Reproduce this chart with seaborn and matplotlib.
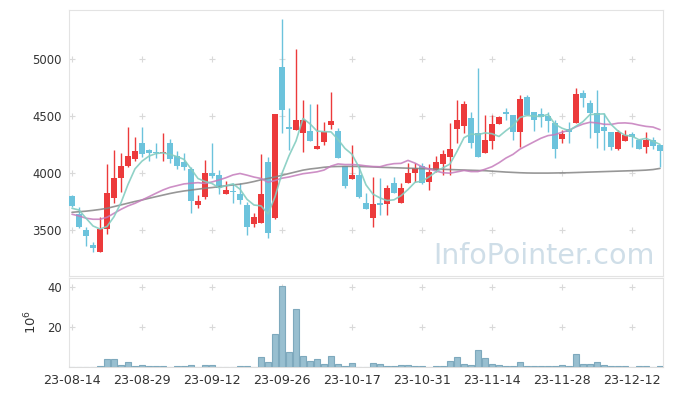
import numpy as np
import pandas as pd
import matplotlib
matplotlib.use("Agg")
import matplotlib.pyplot as plt
import seaborn as sns

# ---------------- data ----------------
opens = [3801, 3640, 3500, 3368, 3310, 3506, 3778, 3953, 4061, 4123,
         4263, 4202, 4187, 4173, 4260, 4152, 4099, 4035, 3722, 3792,
         4000, 3980, 3816, 3838, 3816, 3719, 3553, 3559, 4096, 3608,
         4933, 4401, 4377, 4348, 4368, 4213, 4275, 4421, 4368, 4061,
         3950, 3982, 3734, 3608, 3727, 3725, 3910, 3739, 3910, 3997,
         4060, 3918, 4026, 4079, 4143, 4386, 4415, 4480, 4348, 4173,
         4281, 4427, 4532, 4509, 4362, 4670, 4532, 4515, 4503, 4436,
         4295, 4383, 4436, 4705, 4617, 4523, 4406, 4362, 4208, 4283,
         4342, 4290, 4231, 4290, 4246]
closes = [3713, 3524, 3450, 3345, 3509, 3825, 3953, 4061, 4149, 4193,
          4164, 4173, 4173, 4181, 4125, 4064, 4055, 3757, 3755, 3997,
          3974, 3866, 3851, 3834, 3763, 3529, 3617, 3816, 3476, 4518,
          4555, 4389, 4465, 4465, 4283, 4237, 4362, 4456, 4134, 3886,
          3982, 3789, 3687, 3725, 3723, 3866, 3822, 3866, 3997, 4041,
          3915, 4006, 4096, 4167, 4211, 4465, 4608, 4260, 4137, 4290,
          4427, 4488, 4515, 4362, 4646, 4509, 4465, 4494, 4456, 4211,
          4339, 4357, 4690, 4655, 4523, 4354, 4371, 4231, 4362, 4333,
          4319, 4211, 4290, 4240, 4193]
highs = [3805, 3699, 3529, 3397, 3611, 4079, 4202, 4173, 4401, 4313,
         4401, 4210, 4260, 4354, 4295, 4190, 4173, 4050, 3807, 4111,
         4260, 4023, 3933, 3910, 3910, 3743, 3646, 4164, 4143, 4518,
         5351, 4567, 5088, 4640, 4605, 4605, 4450, 4713, 4392, 4065,
         4246, 4070, 3827, 3968, 3953, 3895, 3968, 3910, 4085, 4085,
         4085, 4076, 4149, 4202, 4436, 4640, 4634, 4538, 4918, 4509,
         4509, 4500, 4567, 4509, 4684, 4684, 4538, 4567, 4532, 4465,
         4377, 4450, 4748, 4728, 4640, 4728, 4523, 4362, 4377, 4377,
         4357, 4302, 4362, 4319, 4246]
lows = [3700, 3520, 3360, 3310, 3305, 3465, 3734, 3836, 4050, 4108,
        4143, 4105, 4134, 4108, 4085, 4035, 4030, 3646, 3690, 3769,
        3953, 3816, 3816, 3734, 3725, 3456, 3524, 3559, 3433, 3600,
        4348, 4202, 4377, 4187, 4280, 4213, 4246, 4383, 4134, 3866,
        3950, 3778, 3687, 3524, 3632, 3632, 3822, 3739, 3910, 3924,
        3903, 3851, 4006, 3982, 3982, 4260, 4354, 4216, 4137, 4173,
        4208, 4427, 4465, 4290, 4225, 4509, 4371, 4406, 4362, 4129,
        4260, 4260, 4436, 4576, 4304, 4216, 4202, 4202, 4202, 4283,
        4231, 4211, 4173, 4210, 4055]
volume_m = [0, 0, 0, 0, 0.5, 3.8, 3.8, 0.8, 2.3, 0.3,
            0.8, 0.4, 0.4, 0.4, 0, 0.4, 0.4, 0.9, 0, 0.9,
            0.9, 0, 0, 0, 0.4, 0.4, 0, 4.8, 2.3, 16.3,
            40.5, 7.3, 28.8, 5.3, 2.8, 3.8, 1.3, 5.3, 1.3, 0.7,
            1.8, 0.2, 0.2, 1.8, 1.3, 0.3, 0.3, 0.8, 0.8, 0.3,
            0.3, 0, 0.3, 0.3, 3.0, 4.8, 1.3, 0.8, 8.3, 4.3,
            1.3, 0.8, 0.3, 0.3, 2.3, 0.3, 0.3, 0.3, 0.3, 0.3,
            0.8, 0.3, 6.3, 1.3, 1.3, 2.3, 0.8, 0.3, 0.3, 0.3,
            0, 0.3, 0.3, 0, 0.3]
# moving-average values before enough history exists in this window
ma5_head = [3690, 3675, 3603, 3535]
ma20_head = [3638, 3623, 3603, 3594, 3594, 3611, 3646, 3681, 3711, 3734,
             3763, 3792, 3822, 3851, 3874, 3889, 3904, 3910, 3915]
ma60 = [3655, 3660, 3665, 3672, 3680, 3690, 3705, 3720, 3735, 3750,
        3763, 3778, 3792, 3806, 3820, 3832, 3842, 3850, 3858, 3866,
        3872, 3880, 3888, 3895, 3902, 3912, 3925, 3940, 3952, 3965,
        3980, 3995, 4010, 4025, 4035, 4042, 4050, 4055, 4057, 4058,
        4058, 4057, 4055, 4053, 4050, 4048, 4046, 4044, 4042, 4040,
        4038, 4036, 4034, 4032, 4030, 4028, 4026, 4024, 4022, 4020,
        4016, 4012, 4008, 4005, 4002, 4000, 3999, 3999, 3999, 4000,
        4001, 4002, 4004, 4006, 4008, 4010, 4012, 4014, 4016, 4018,
        4020, 4022, 4025, 4030, 4040]
tick_idx = [0, 10, 20, 30, 40, 50, 60, 70, 80]
tick_labels = ["23-08-14", "23-08-29", "23-09-12", "23-09-26", "23-10-17",
               "23-10-31", "23-11-14", "23-11-28", "23-12-12"]
price_ticks = [3500, 4000, 4500, 5000]
vol_ticks = [20, 40]

# ---------------- frame ----------------
n = len(closes)
df = pd.DataFrame({"idx": np.arange(n), "open": opens, "close": closes,
                   "high": highs, "low": lows, "vol": volume_m})
ma5 = df["close"].rolling(5).mean().to_numpy()
ma5[:len(ma5_head)] = ma5_head
ma20 = df["close"].rolling(20).mean().to_numpy()
ma20[:len(ma20_head)] = ma20_head
df["ma5"] = ma5
df["ma20"] = ma20
df["ma60"] = ma60

sns.set_style("white")
plt.rcParams["font.family"] = ["DejaVu Sans"]

RED = "#ec3a3b"
BLUE = "#6cc3dc"
TXT = "#333333"
SPINE = "#e3e3e3"
CROSS = "#d9d9d9"

W, H = 673, 396
fig = plt.figure(figsize=(W / 100, H / 100), dpi=100)
ax = fig.add_axes([69 / W, 1 - 276 / H, 594 / W, 266 / H])
axv = fig.add_axes([69 / W, 1 - 367 / H, 594 / W, 89 / H])

xlim = (-0.43, 84.43)

# ---- candles ----
up = df["close"] >= df["open"]
colors = np.where(up, RED, BLUE)
body_bottom = np.minimum(df["open"], df["close"])
body_h = np.maximum(np.abs(df["close"] - df["open"]), 12)
ax.vlines(df["idx"], df["low"], df["high"], colors=colors, linewidth=1.0, zorder=3)
ax.bar(df["idx"], body_h, bottom=body_bottom, width=0.72, color=colors,
       linewidth=0, zorder=4)

# ---- moving averages ----
sns.lineplot(data=df, x="idx", y="ma60", ax=ax, color="#858585", linewidth=1.2,
             alpha=0.85, zorder=5)
sns.lineplot(data=df, x="idx", y="ma20", ax=ax, color="#c57cbc", linewidth=1.2,
             alpha=0.85, zorder=5)
sns.lineplot(data=df, x="idx", y="ma5", ax=ax, color="#84cdc1", linewidth=1.2,
             alpha=0.9, zorder=6)

ax.set_xlim(*xlim)
ax.set_ylim(3096, 5430)
ax.set_xticks(tick_idx)
ax.set_xticklabels([])
ax.set_yticks(price_ticks)
ax.set_yticklabels([str(v) for v in price_ticks], fontsize=8.4, color=TXT)
ax.tick_params(axis="both", length=0, pad=5)
ax.set_xlabel("")
ax.set_ylabel("")
for s in ax.spines.values():
    s.set_color(SPINE)
    s.set_linewidth(0.8)
gx, gy = np.meshgrid(tick_idx, price_ticks)
ax.scatter(gx.ravel(), gy.ravel(), marker="+", s=22, color=CROSS, linewidths=0.8, zorder=1)

# watermark
ax.text(655 / W, 1 - 256 / H, "InfoPointer.com", transform=fig.transFigure,
        ha="right", va="center", fontsize=20.5,
        family=["DejaVu Sans"], color="#cfdee8", zorder=2)

# ---- volume ----
sns.barplot(data=df, x="idx", y="vol", ax=axv, native_scale=True, width=0.9,
            color="#98bfd0", edgecolor="#7ea9bd", linewidth=0.8, saturation=1, zorder=3)
axv.set_xlim(*xlim)
axv.set_ylim(0, 44.5)
axv.set_xticks(tick_idx)
axv.set_xticklabels(tick_labels, fontsize=9.2, color=TXT)
axv.set_yticks(vol_ticks)
axv.set_yticklabels([str(v) for v in vol_ticks], fontsize=8.4, color=TXT)
axv.tick_params(axis="both", length=0, pad=5)
axv.set_xlabel("")
axv.set_ylabel("")
for s in axv.spines.values():
    s.set_color(SPINE)
    s.set_linewidth(0.8)
axv.spines["bottom"].set_color("#dcdcdc")
gx, gy = np.meshgrid(tick_idx, vol_ticks)
axv.scatter(gx.ravel(), gy.ravel(), marker="+", s=22, color=CROSS, linewidths=0.8, zorder=1)
fig.text(31 / W, 1 - 322 / H, r"$10^6$", rotation=90, ha="center", va="center",
         fontsize=9.5, color=TXT)

fig.savefig("out.png", dpi=100)
